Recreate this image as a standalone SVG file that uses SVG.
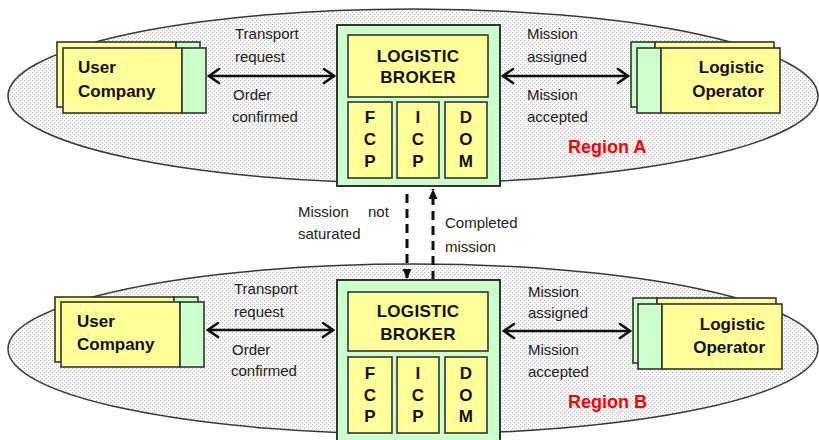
<svg xmlns="http://www.w3.org/2000/svg" width="819" height="440" viewBox="0 0 819 440">
<defs>
<pattern id="dots" width="4" height="4" patternUnits="userSpaceOnUse">
<rect width="4" height="4" fill="#f9f9f9"/>
<rect x="0" y="0" width="1" height="1" fill="#b4b4b4"/>
<rect x="2" y="2" width="1" height="1" fill="#b4b4b4"/>
</pattern>
<marker id="open" viewBox="-12 -9 14 18" markerWidth="14" markerHeight="18" refX="0" refY="0" orient="auto-start-reverse" markerUnits="userSpaceOnUse">
<path d="M -10 -7 L 0 0 L -10 7" fill="none" stroke="#111" stroke-width="2.6" stroke-linecap="round" stroke-linejoin="miter"/>
</marker>
<marker id="solid" viewBox="-11 -5 12 10" markerWidth="12" markerHeight="10" refX="0" refY="0" orient="auto" markerUnits="userSpaceOnUse">
<path d="M -10 -4.5 L 0 0 L -10 4.5 Z" fill="#111"/>
</marker>
</defs>
<style>
.region{fill:url(#dots);stroke:#3a3a3a;stroke-width:1.5}
.y{fill:#ffff99;stroke:#333;stroke-width:1.6}
.g{fill:#ccffcc;stroke:#333;stroke-width:1.6}
.outer{fill:#ccffcc;stroke:#333;stroke-width:2}
.nt{font-family:"Liberation Sans",Arial,sans-serif;font-weight:bold;font-size:17px;fill:#111}
.bt{font-family:"Liberation Sans",Arial,sans-serif;font-weight:bold;font-size:17px;fill:#111;letter-spacing:0.3px;text-anchor:middle}
.lt{font-family:"Liberation Sans",Arial,sans-serif;font-size:15px;fill:#222}
.rt{font-family:"Liberation Sans",Arial,sans-serif;font-weight:bold;font-size:18px;fill:#ff0000}
.arr{stroke:#111;stroke-width:2.6;fill:none;marker-start:url(#open);marker-end:url(#open)}
.dash{stroke:#111;stroke-width:3;fill:none;stroke-dasharray:9 6;marker-end:url(#solid)}
</style>

<g id="region-a">
<ellipse class="region" cx="413" cy="96" rx="405" ry="87"/>
<text class="rt" x="568" y="153">Region A</text>
</g>
<g id="region-b">
<ellipse class="region" cx="413" cy="349" rx="405" ry="85"/>
<text class="rt" x="568" y="408">Region B</text>
</g>

<g id="connectors">
<line class="arr" x1="209" y1="76" x2="334" y2="76"/>
<line class="arr" x1="503" y1="76" x2="628" y2="76"/>
<line class="arr" x1="208" y1="330" x2="333" y2="330"/>
<line class="arr" x1="504" y1="331" x2="630" y2="331"/>
<line class="dash" x1="407" y1="194" x2="407" y2="279"/>
<line class="dash" x1="433" y1="280" x2="433" y2="189"/>
<text class="lt" x="235" y="39">Transport</text>
<text class="lt" x="235" y="62">request</text>
<text class="lt" x="233" y="100">Order</text>
<text class="lt" x="232" y="122">confirmed</text>
<text class="lt" x="527" y="39">Mission</text>
<text class="lt" x="527" y="62">assigned</text>
<text class="lt" x="527" y="100">Mission</text>
<text class="lt" x="527" y="122">accepted</text>
<text class="lt" x="234" y="294">Transport</text>
<text class="lt" x="234" y="317">request</text>
<text class="lt" x="232" y="355">Order</text>
<text class="lt" x="231" y="376">confirmed</text>
<text class="lt" x="528" y="297">Mission</text>
<text class="lt" x="528" y="318">assigned</text>
<text class="lt" x="528" y="355">Mission</text>
<text class="lt" x="528" y="377">accepted</text>
<text class="lt" y="217"><tspan x="298">Mission</tspan><tspan x="368">not</tspan></text>
<text class="lt" x="298" y="239">saturated</text>
<text class="lt" x="445" y="228">Completed</text>
<text class="lt" x="445" y="252">mission</text>
</g>

<g id="user-company-a">
<rect class="y" x="57" y="42" width="119" height="65"/>
<rect class="g" x="176" y="42" width="24" height="65"/>
<rect class="y" x="63" y="48" width="119" height="65"/>
<rect class="g" x="182" y="48" width="24" height="65"/>
<text class="nt" x="78" y="73">User</text>
<text class="nt" x="78" y="97">Company</text>
</g>

<g id="logistic-operator-a">
<rect class="g" x="631" y="42" width="24" height="65"/>
<rect class="y" x="655" y="42" width="119" height="65"/>
<rect class="g" x="637" y="48" width="24" height="65"/>
<rect class="y" x="661" y="48" width="119" height="65"/>
<text class="nt" x="764" y="73" text-anchor="end">Logistic</text>
<text class="nt" x="764" y="97" text-anchor="end">Operator</text>
</g>

<g id="broker-a">
<rect class="outer" x="337" y="25" width="163" height="161"/>
<rect class="y" x="348" y="35" width="140" height="62"/>
<text class="bt" x="418" y="62">LOGISTIC</text>
<text class="bt" x="418" y="83">BROKER</text>
<rect class="y" x="348" y="102" width="44" height="76"/>
<rect class="y" x="397" y="102" width="42" height="76"/>
<rect class="y" x="445" y="102" width="42" height="76"/>
<text class="bt" x="370" y="123">F</text><text class="bt" x="370" y="145">C</text><text class="bt" x="370" y="167">P</text>
<text class="bt" x="418" y="123">I</text><text class="bt" x="418" y="145">C</text><text class="bt" x="418" y="167">P</text>
<text class="bt" x="466" y="123">D</text><text class="bt" x="466" y="145">O</text><text class="bt" x="466" y="167">M</text>
</g>

<g id="user-company-b">
<rect class="y" x="55" y="297" width="119" height="65"/>
<rect class="g" x="174" y="297" width="24" height="65"/>
<rect class="y" x="61" y="302" width="119" height="65"/>
<rect class="g" x="180" y="302" width="24" height="65"/>
<text class="nt" x="77" y="327">User</text>
<text class="nt" x="77" y="350">Company</text>
</g>

<g id="logistic-operator-b">
<rect class="g" x="633" y="298" width="24" height="65"/>
<rect class="y" x="657" y="298" width="119" height="65"/>
<rect class="g" x="638" y="304" width="24" height="65"/>
<rect class="y" x="662" y="304" width="120" height="65"/>
<text class="nt" x="765" y="330" text-anchor="end">Logistic</text>
<text class="nt" x="765" y="353" text-anchor="end">Operator</text>
</g>

<g id="broker-b">
<rect class="outer" x="337" y="280" width="163" height="162"/>
<rect class="y" x="348" y="292" width="140" height="59"/>
<text class="bt" x="418" y="317">LOGISTIC</text>
<text class="bt" x="418" y="340">BROKER</text>
<rect class="y" x="348" y="357" width="44" height="76"/>
<rect class="y" x="397" y="357" width="42" height="76"/>
<rect class="y" x="445" y="357" width="42" height="76"/>
<text class="bt" x="370" y="379">F</text><text class="bt" x="370" y="401">C</text><text class="bt" x="370" y="422">P</text>
<text class="bt" x="418" y="379">I</text><text class="bt" x="418" y="401">C</text><text class="bt" x="418" y="422">P</text>
<text class="bt" x="466" y="379">D</text><text class="bt" x="466" y="401">O</text><text class="bt" x="466" y="422">M</text>
</g>
</svg>
